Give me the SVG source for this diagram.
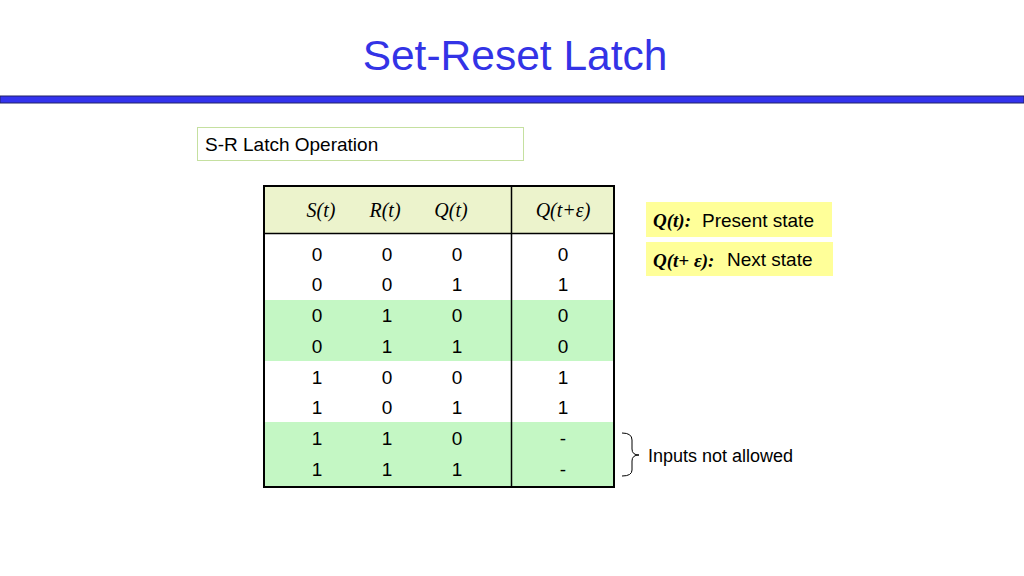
<svg xmlns="http://www.w3.org/2000/svg" width="1024" height="576" viewBox="0 0 1024 576">
<style>
.s{font-family:"Liberation Sans",Arial,sans-serif;fill:#000}
.c{font-family:"Liberation Sans",Arial,sans-serif;font-size:19px;text-anchor:middle}
.h{font-family:"Liberation Serif","Times New Roman",serif;font-size:20px;font-style:italic;text-anchor:middle}
.sb{font-family:"Liberation Serif","Times New Roman",serif;font-size:19px;font-style:italic;font-weight:bold}
</style>
<rect width="1024" height="576" fill="#fff"/>
<g id="title"><text x="515" y="70" text-anchor="middle" font-family="Liberation Sans,Arial,sans-serif" font-size="42.5" fill="#3333e6">Set-Reset Latch</text></g>
<rect x="0" y="96" width="1024" height="7" fill="#3333ee" stroke="#222266" stroke-width="1"/>
<g id="caption"><rect x="197.5" y="127.5" width="326" height="33" fill="#fff" stroke="#c5e0a0"/>
<text x="205" y="151" class="s" font-size="19">S-R Latch Operation</text></g>
<g id="table">
<rect x="264" y="186" width="350" height="47" fill="#ecf3cc"/>
<rect x="264" y="300" width="350" height="61" fill="#c4f7c4"/>
<rect x="264" y="422" width="350" height="64" fill="#c4f7c4"/>
<rect x="264" y="186" width="350" height="301" fill="none" stroke="#000" stroke-width="2"/>
<line x1="264" y1="233.5" x2="614" y2="233.5" stroke="#000" stroke-width="1.5"/>
<line x1="511.5" y1="186" x2="511.5" y2="487" stroke="#000" stroke-width="1.5"/>
<text class="h" x="321" y="217">S(t)</text><text class="h" x="385" y="217">R(t)</text><text class="h" x="451" y="217">Q(t)</text><text class="h" x="563" y="217">Q(t+ε)</text>
<g class="c">
<text x="317" y="261">0</text><text x="387" y="261">0</text><text x="457" y="261">0</text><text x="563" y="261">0</text>
<text x="317" y="291">0</text><text x="387" y="291">0</text><text x="457" y="291">1</text><text x="563" y="291">1</text>
<text x="317" y="322">0</text><text x="387" y="322">1</text><text x="457" y="322">0</text><text x="563" y="322">0</text>
<text x="317" y="353">0</text><text x="387" y="353">1</text><text x="457" y="353">1</text><text x="563" y="353">0</text>
<text x="317" y="384">1</text><text x="387" y="384">0</text><text x="457" y="384">0</text><text x="563" y="384">1</text>
<text x="317" y="414">1</text><text x="387" y="414">0</text><text x="457" y="414">1</text><text x="563" y="414">1</text>
<text x="317" y="445">1</text><text x="387" y="445">1</text><text x="457" y="445">0</text><text x="563" y="445">-</text>
<text x="317" y="476">1</text><text x="387" y="476">1</text><text x="457" y="476">1</text><text x="563" y="476">-</text>
</g></g>
<g id="legend1"><rect x="646" y="202" width="186" height="35" fill="#ffff99"/>
<text x="653" y="227" class="sb">Q(t):</text><text x="702" y="227" class="s" font-size="19">Present state</text></g>
<g id="legend2"><rect x="646" y="242" width="187" height="34" fill="#ffff99"/>
<text x="653" y="267" class="sb">Q(t+ ε):</text><text x="727" y="266" class="s" font-size="19">Next state</text></g>
<g id="brace"><path d="M622,433 Q632,433 632,440 L632,449 Q632,455 639,455 Q632,455 632,461 L632,470 Q632,476 622,476" fill="none" stroke="#000" stroke-width="1"/>
<text x="648" y="462" class="s" font-size="18">Inputs not allowed</text></g>
</svg>
